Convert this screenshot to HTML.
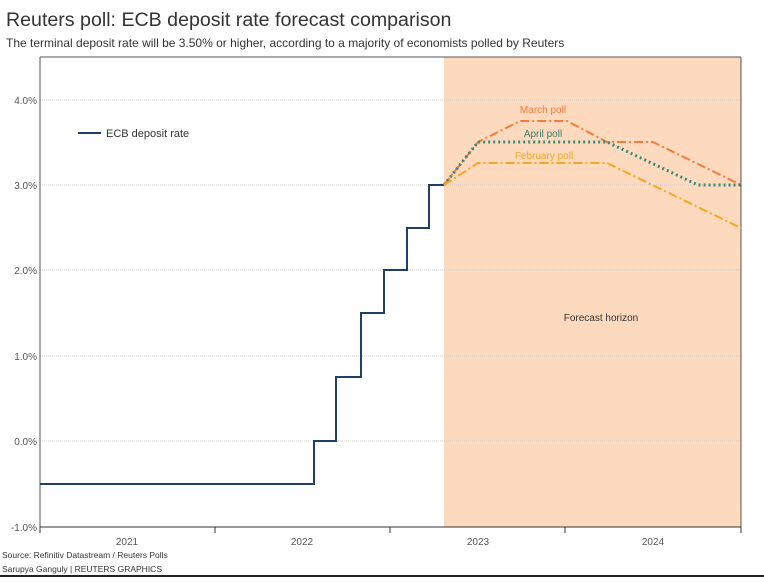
<!DOCTYPE html>
<html><head><meta charset="utf-8"><style>
body{margin:0;background:#fff;width:764px;height:577px;overflow:hidden;font-family:"Liberation Sans",sans-serif}
</style></head><body>
<svg width="764" height="577" xmlns="http://www.w3.org/2000/svg" font-family="Liberation Sans, sans-serif">
<text x="6" y="26" font-size="19.6" fill="#333">Reuters poll: ECB deposit rate forecast comparison</text>
<text x="6" y="47" font-size="12" fill="#333">The terminal deposit rate will be 3.50% or higher, according to a majority of economists polled by Reuters</text>
<rect x="444" y="57" width="297" height="470" fill="#fdd9bd"/>
<g stroke="#ccc" stroke-dasharray="1,1" stroke-width="1">
<line x1="40" y1="100" x2="741" y2="100"/><line x1="40" y1="185" x2="741" y2="185"/>
<line x1="40" y1="270" x2="741" y2="270"/><line x1="40" y1="356" x2="741" y2="356"/>
<line x1="40" y1="441" x2="741" y2="441"/></g>
<g font-size="10" fill="#555" text-anchor="end">
<text x="37" y="104">4.0%</text><text x="37" y="189">3.0%</text><text x="37" y="274">2.0%</text>
<text x="37" y="360">1.0%</text><text x="37" y="445">0.0%</text><text x="37" y="531">-1.0%</text></g>
<line x1="40" y1="57" x2="741" y2="57" stroke="#555"/>
<line x1="40" y1="57" x2="40" y2="527" stroke="#555"/>
<line x1="741" y1="57" x2="741" y2="527" stroke="#555"/>
<line x1="40" y1="527" x2="741" y2="527" stroke="#333"/>
<g stroke="#333"><line x1="40" y1="527" x2="40" y2="533"/><line x1="215" y1="527" x2="215" y2="533"/><line x1="390" y1="527" x2="390" y2="533"/><line x1="565" y1="527" x2="565" y2="533"/><line x1="741" y1="527" x2="741" y2="533"/></g>
<g font-size="10" fill="#555" text-anchor="middle">
<text x="127" y="545">2021</text><text x="302" y="545">2022</text><text x="478" y="545">2023</text><text x="653" y="545">2024</text></g>
<polyline fill="none" stroke="#1f3f66" stroke-width="2" points="40,484 314,484 314,441 336,441 336,377 361,377 361,313 384,313 384,270 407,270 407,228 429,228 429,185 444,185"/>
<polyline fill="none" stroke="#f47c3c" stroke-width="2" stroke-dasharray="9,3,2,3" points="444,185 478,142 520,121 567,121 607,142 653,142 741,185"/>
<polyline fill="none" stroke="#3a8a7a" stroke-width="3" stroke-dasharray="2,3" points="444,185 478,142 607,142 698,185 741,185"/>
<polyline fill="none" stroke="#f5a623" stroke-width="2" stroke-dasharray="9,3,2,3" points="444,185 478,163 607,163 741,228"/>
<text x="543" y="113" font-size="10" fill="#f47c3c" text-anchor="middle">March poll</text>
<text x="543" y="137" font-size="10" fill="#3a7a6a" text-anchor="middle">April poll</text>
<text x="544" y="159" font-size="10" fill="#f5a623" text-anchor="middle">February poll</text>
<text x="601" y="321" font-size="10" fill="#333" text-anchor="middle">Forecast horizon</text>
<line x1="78" y1="133" x2="101" y2="133" stroke="#1f3f66" stroke-width="2"/>
<text x="106" y="137" font-size="11" fill="#333">ECB deposit rate</text>
<text x="2" y="558" font-size="8.5" fill="#333">Source: Refinitiv Datastream / Reuters Polls</text>
<text x="2" y="572" font-size="8.5" fill="#333">Sarupya Ganguly | REUTERS GRAPHICS</text>
<line x1="0" y1="576" x2="764" y2="576" stroke="#222" stroke-width="2"/>
</svg>
</body></html>
